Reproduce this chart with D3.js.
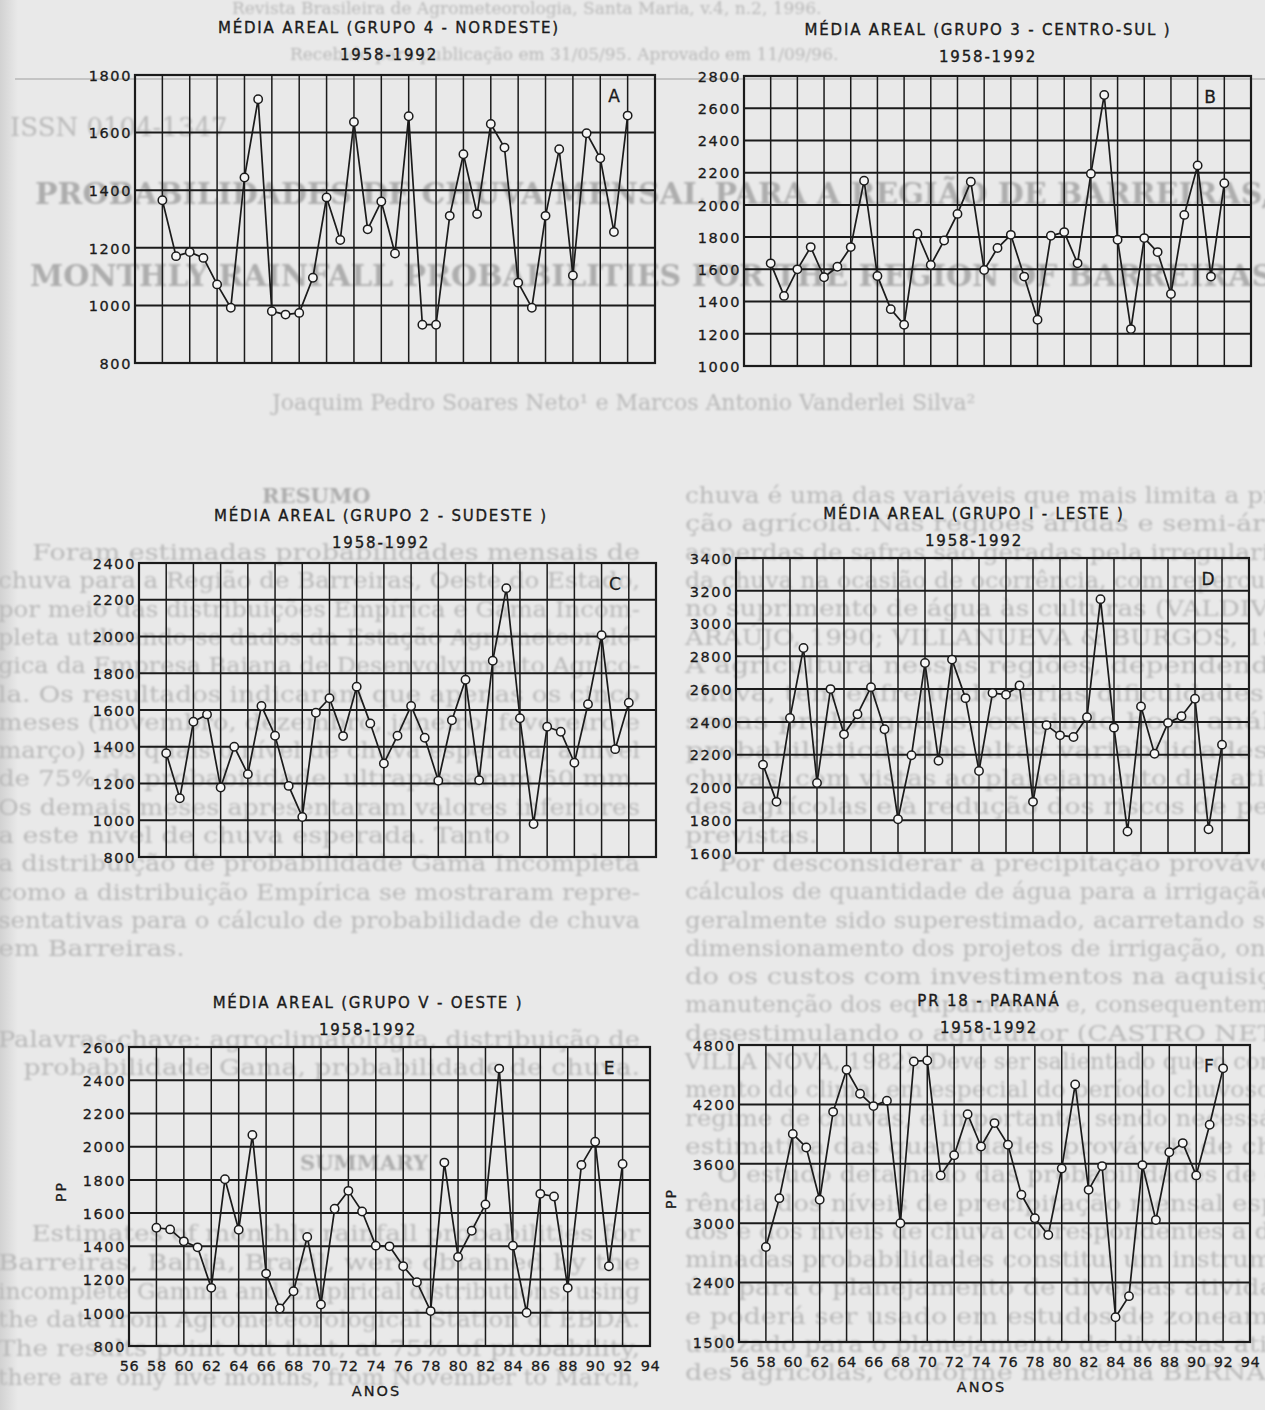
<!DOCTYPE html>
<html>
<head>
<meta charset="utf-8">
<script src="https://cdn.jsdelivr.net/npm/d3@7"></script>
<style>
  body { margin: 0; background: #e9e9e9; }
  svg { display: block; }
</style>
</head>
<body>
<script>
// anos 1958-1992 (eixo x em "56 ... 94")
const years = [58,59,60,61,62,63,64,65,66,67,68,69,70,71,72,73,74,75,76,77,78,79,80,81,82,83,84,85,86,87,88,89,90,91,92];
const xTickYears = [56,58,60,62,64,66,68,70,72,74,76,78,80,82,84,86,88,90,92,94];

// valores (mm)
const nordeste = [1365,1171,1185,1165,1073,992,1444,1716,980,968,974,1096,1375,1227,1637,1264,1361,1180,1657,933,933,1311,1525,1317,1630,1548,1079,992,1311,1542,1104,1598,1511,1255,1659];
const centroSul = [1637,1435,1600,1738,1551,1616,1738,2150,1559,1353,1256,1821,1627,1779,1944,2144,1596,1732,1814,1555,1287,1808,1831,1637,2194,2682,1784,1229,1794,1707,1447,1938,2245,1555,2134];
const sudeste = [1365,1120,1536,1576,1178,1400,1251,1622,1460,1187,1018,1585,1664,1458,1727,1527,1309,1460,1622,1449,1215,1544,1765,1218,1868,2263,1555,980,1509,1482,1313,1631,2007,1387,1640];
const leste = [2139,1912,2424,2851,2027,2600,2324,2447,2612,2355,1806,2196,2759,2163,2780,2545,2100,2576,2566,2622,1912,2380,2318,2308,2429,3149,2365,1731,2494,2206,2394,2434,2541,1745,2261];
const oeste = [1512,1502,1430,1394,1150,1804,1500,2070,1236,1026,1130,1456,1050,1626,1734,1610,1404,1400,1280,1184,1010,1904,1336,1494,1652,2470,1404,1000,1716,1700,1150,1890,2030,1280,1896];
const parana = [2759,3253,3902,3765,3237,4125,4550,4308,4183,4238,3000,4634,4644,3483,3686,4101,3775,4011,3792,3287,3050,2881,3553,4401,3337,3577,2050,2263,3587,3032,3717,3809,3483,3994,4564];

// ticks do eixo y
const ticksA = [800,1000,1200,1400,1600,1800];
const ticksB = [1000,1200,1400,1600,1800,2000,2200,2400,2600,2800];
const ticksC = [800,1000,1200,1400,1600,1800,2000,2200,2400];
const ticksD = [1600,1800,2000,2200,2400,2600,2800,3000,3200,3400];
const ticksE = [800,1000,1200,1400,1600,1800,2000,2200,2400,2600];
const ticksF = [1800,2400,3000,3600,4200,4800];
const labelsF = ["1500","2400","3000","3600","4200","4800"]; // como impresso no original

const W = 1265, H = 1410;
const ink = "#1b1b1b";

const svg = d3.select("body").append("svg")
    .attr("width", W)
    .attr("height", H);

// fundo da página digitalizada
const defs = svg.append("defs");
const grad = defs.append("linearGradient").attr("id", "edge");
grad.append("stop").attr("offset", "0").attr("stop-color", "#d2d2d2");
grad.append("stop").attr("offset", "1").attr("stop-color", "#e9e9e9");
defs.append("filter").attr("id", "soft")
  .append("feGaussianBlur").attr("stdDeviation", 0.8);

svg.append("rect").attr("width", W).attr("height", H).attr("fill", "#e9e9e9");
svg.append("rect").attr("width", 18).attr("height", H).attr("fill", "url(#edge)");
svg.append("line").attr("x1", 15).attr("x2", W).attr("y1", 79).attr("y2", 79)
    .attr("stroke", "#c4c4c4").attr("stroke-width", 2);

// texto do artigo, por trás dos gráficos
const bg = svg.append("g").attr("filter", "url(#soft)").attr("fill", "#b9b9b9")
    .style("font-family", "'DejaVu Serif', serif");

const header = [
  {t: "Revista Brasileira de Agrometeorologia, Santa Maria, v.4, n.2, 1996.", x: 232, y: 14, s: 17},
  {t: "Recebido para publicação em 31/05/95. Aprovado em 11/09/96.", x: 290, y: 60, s: 17},
  {t: "ISSN 0104-1347", x: 10, y: 136, s: 26},
  {t: "Joaquim Pedro Soares Neto¹ e Marcos Antonio Vanderlei Silva²", x: 272, y: 410, s: 22}
];
bg.selectAll("text.h").data(header).join("text")
    .attr("x", d => d.x).attr("y", d => d.y)
    .style("font-size", d => d.s + "px")
    .text(d => d.t);

const heads = [
  {t: "PROBABILIDADES DE CHUVA MENSAL PARA A REGIÃO DE BARREIRAS, BA", x: 35, y: 204, s: 30},
  {t: "MONTHLY RAINFALL PROBABILITIES FOR THE REGION OF BARREIRAS, BA", x: 30, y: 286, s: 30},
  {t: "RESUMO", x: 262, y: 503, s: 21},
  {t: "SUMMARY", x: 300, y: 1170, s: 21}
];
bg.selectAll("text.b").data(heads).join("text")
    .attr("x", d => d.x).attr("y", d => d.y)
    .attr("fill", "#adadad")
    .style("font-size", d => d.s + "px")
    .style("font-weight", "bold")
    .text(d => d.t);

const colLeft = [
  "    Foram estimadas probabilidades mensais de",
  "chuva para a Região de Barreiras, Oeste do Estado,",
  "por meio das distribuições Empírica e Gama Incom-",
  "pleta utilizando-se dados da Estação Agrometeoroló-",
  "gica da Empresa Baiana de Desenvolvimento Agríco-",
  "la. Os resultados indicaram que apenas os cinco",
  "meses (novembro, dezembro, janeiro, fevereiro e",
  "março) nos quais o nível de chuva esperada, a nível",
  "de 75% de probabilidade, ultrapassaram 50 mm.",
  "Os demais meses apresentaram valores inferiores",
  "a este nível de chuva esperada. Tanto",
  "a distribuição de probabilidade Gama Incompleta",
  "como a distribuição Empírica se mostraram repre-",
  "sentativas para o cálculo de probabilidade de chuva",
  "em Barreiras."
];
const colLeft2 = [
  "Palavras-chave: agroclimatologia, distribuição de",
  "   probabilidade Gama, probabilidade de chuva."
];
const colLeft3 = [
  "    Estimates of monthly rainfall probabilities for",
  "Barreiras, Bahia, Brazil, were obtained by the",
  "incomplete Gamma and Empirical distributions, using",
  "the data from Agrometeorological Station of EBDA.",
  "The results point out that, at 75% of probability,",
  "there are only five months, from November to March,"
];
const colRight = [
  "chuva é uma das variáveis que mais limita a produ-",
  "ção agrícola. Nas regiões áridas e semi-áridas,",
  "as perdas de safras são geradas pela irregularidade",
  "da chuva na ocasião de ocorrência, com repercussões",
  "no suprimento de água às culturas (VALDIVIA &",
  "ARAÚJO, 1990; VILLANUEVA & BURGOS, 1990).",
  "A agricultura nessas regiões, dependendo da",
  "chuva, tem enfrentado sérias dificuldades com",
  "secas prolongadas, exigindo boas análises",
  "probabilísticas das altas variabilidades das",
  "chuvas, com vistas ao planejamento das ativida-",
  "des agrícolas e à redução dos riscos de perdas",
  "previstas.",
  "    Por desconsiderar a precipitação provável, os",
  "cálculos de quantidade de água para a irrigação têm",
  "geralmente sido superestimado, acarretando sobre-",
  "dimensionamento dos projetos de irrigação, oneran-",
  "do os custos com investimentos na aquisição e",
  "manutenção dos equipamentos e, consequentemente,",
  "desestimulando o agricultor (CASTRO NETO &",
  "VILLA NOVA, 1982). Deve ser salientado que o conheci-",
  "mento do clima, em especial do período chuvoso e do",
  "regime de chuvas, é importante, sendo necessária a",
  "estimativa das quantidades prováveis de chuva.",
  "    O estudo detalhado das probabilidades de ocor-",
  "rência dos níveis de precipitação mensal espera-",
  "dos e dos níveis de chuva correspondentes a deter-",
  "minadas probabilidades constitui um instrumento",
  "útil para o planejamento de diversas atividades,",
  "e poderá ser usado em estudos de zoneamento",
  "utilizado para o planejamento de diversas ativida-",
  "des agrícolas, conforme menciona BERNARDO"
];

// linhas justificadas; as curtas só alargadas
function bodyLines(lines, x0, y0, step, width, ends) {
  bg.append("g").selectAll("text").data(lines).join("text")
      .attr("x", x0)
      .attr("y", (d, i) => y0 + i * step)
      .style("font-size", "22px")
      .style("white-space", "pre")
      .text(d => d)
      .each(function(d, i) {
        const L = this.getComputedTextLength();
        const len = ends.includes(i) ? Math.min(L * 1.22, width) : width;
        this.setAttribute("textLength", len);
        this.setAttribute("lengthAdjust", "spacingAndGlyphs");
      });
}
bodyLines(colLeft, -2, 560, 28.3, 642, [10, 14]);
bodyLines(colLeft2, -2, 1047, 28.3, 642, [1]);
bodyLines(colLeft3, -2, 1241, 28.8, 642, []);
bodyLines(colRight, 685, 503, 28.3, 645, [12, 23]);

// configuração dos seis painéis
const panels = [
  {letter: "A", title: "MÉDIA AREAL (GRUPO 4 - NORDESTE)", values: nordeste, ticks: ticksA,
   x0: 135, x1: 655, y0: 75, y1: 363, tx: 389, ty: 33},
  {letter: "B", title: "MÉDIA AREAL (GRUPO 3 - CENTRO-SUL )", values: centroSul, ticks: ticksB,
   x0: 744, x1: 1251, y0: 76, y1: 366, tx: 988, ty: 35},
  {letter: "C", title: "MÉDIA AREAL (GRUPO 2 - SUDESTE )", values: sudeste, ticks: ticksC,
   x0: 139, x1: 656, y0: 563, y1: 857, tx: 381, ty: 521},
  {letter: "D", title: "MÉDIA AREAL (GRUPO I - LESTE )", values: leste, ticks: ticksD,
   x0: 736, x1: 1249, y0: 558, y1: 853, tx: 974, ty: 519},
  {letter: "E", title: "MÉDIA AREAL (GRUPO V - OESTE )", values: oeste, ticks: ticksE,
   x0: 129, x1: 650, y0: 1047, y1: 1346, tx: 368, ty: 1008, xaxis: true, pp: -5},
  {letter: "F", title: "PR 18 - PARANÁ", values: parana, ticks: ticksF, labels: labelsF,
   x0: 739, x1: 1250, y0: 1045, y1: 1342, tx: 989, ty: 1006, xaxis: true, pp: 5}
];

const font = "'DejaVu Sans', sans-serif";

panels.forEach(p => {
  const g = svg.append("g");
  const x = d3.scaleLinear().domain([56, 94]).range([p.x0, p.x1]);
  const y = d3.scaleLinear().domain(d3.extent(p.ticks)).range([p.y1, p.y0]);

  // títulos
  g.append("text")
      .attr("x", p.tx).attr("y", p.ty)
      .attr("text-anchor", "middle")
      .attr("fill", ink)
      .attr("stroke", ink).attr("stroke-width", 0.35)
      .style("font", `15px ${font}`)
      .style("letter-spacing", "1.8px")
      .text(p.title);
  g.append("text")
      .attr("x", p.tx).attr("y", p.ty + 27)
      .attr("text-anchor", "middle")
      .attr("fill", ink)
      .attr("stroke", ink).attr("stroke-width", 0.35)
      .style("font", `15px ${font}`)
      .style("letter-spacing", "1.8px")
      .text("1958-1992");

  // grade
  g.append("g").selectAll("line").data(xTickYears).join("line")
      .attr("x1", d => x(d)).attr("x2", d => x(d))
      .attr("y1", p.y0).attr("y2", p.y1)
      .attr("stroke", ink).attr("stroke-width", 1.5);
  g.append("g").selectAll("line").data(p.ticks).join("line")
      .attr("x1", p.x0).attr("x2", p.x1)
      .attr("y1", d => y(d)).attr("y2", d => y(d))
      .attr("stroke", ink).attr("stroke-width", 2);
  g.append("rect")
      .attr("x", p.x0).attr("y", p.y0)
      .attr("width", p.x1 - p.x0).attr("height", p.y1 - p.y0)
      .attr("fill", "none").attr("stroke", ink).attr("stroke-width", 2.2);

  // eixo y (só rótulos)
  const yAxis = d3.axisLeft(y)
      .tickValues(p.ticks)
      .tickSize(0)
      .tickPadding(3)
      .tickFormat((d, i) => p.labels ? p.labels[i] : d);
  g.append("g")
      .attr("transform", `translate(${p.x0},0)`)
      .call(yAxis)
      .call(a => a.select(".domain").remove())
      .call(a => a.selectAll("text")
          .attr("fill", ink)
          .attr("stroke", ink).attr("stroke-width", 0.3)
          .attr("dy", "0.36em")
          .style("font", `14.5px ${font}`)
          .style("letter-spacing", "1.6px"));

  if (p.xaxis) {
    const xAxis = d3.axisBottom(x)
        .tickValues(xTickYears)
        .tickSize(0)
        .tickPadding(15)
        .tickFormat(d => d);
    g.append("g")
        .attr("transform", `translate(0,${p.y1})`)
        .call(xAxis)
        .call(a => a.select(".domain").remove())
        .call(a => a.selectAll("text")
            .attr("fill", ink)
            .attr("stroke", ink).attr("stroke-width", 0.3)
            .style("font", `14.5px ${font}`)
            .style("letter-spacing", "0.6px"));
    g.append("text")
        .attr("x", (p.x0 + p.x1) / 2 - 13).attr("y", p.y1 + 50)
        .attr("text-anchor", "middle")
        .attr("fill", ink)
        .attr("stroke", ink).attr("stroke-width", 0.3)
        .style("font", `14.5px ${font}`)
        .style("letter-spacing", "2px")
        .text("ANOS");
    g.append("text")
        .attr("transform", `translate(${p.x0 - 63},${(p.y0 + p.y1) / 2 + p.pp}) rotate(-90)`)
        .attr("text-anchor", "middle")
        .attr("fill", ink)
        .attr("stroke", ink).attr("stroke-width", 0.3)
        .style("font", `14px ${font}`)
        .style("letter-spacing", "2px")
        .text("PP");
  }

  // letra do painel
  g.append("text")
      .attr("x", p.x1 - 41).attr("y", p.y0 + 27)
      .attr("text-anchor", "middle")
      .attr("fill", ink)
      .attr("stroke", ink).attr("stroke-width", 0.3)
      .style("font", `17px ${font}`)
      .text(p.letter);

  // série
  const line = d3.line()
      .x((d, i) => x(years[i]))
      .y(d => y(d));
  g.append("path")
      .datum(p.values)
      .attr("fill", "none")
      .attr("stroke", ink)
      .attr("stroke-width", 1.7)
      .attr("stroke-linejoin", "round")
      .attr("d", line);
  g.append("g").selectAll("circle").data(p.values).join("circle")
      .attr("cx", (d, i) => x(years[i]))
      .attr("cy", d => y(d))
      .attr("r", 4.2)
      .attr("fill", "#f6f6f6")
      .attr("stroke", ink)
      .attr("stroke-width", 1.5);
});
</script>
</body>
</html>
